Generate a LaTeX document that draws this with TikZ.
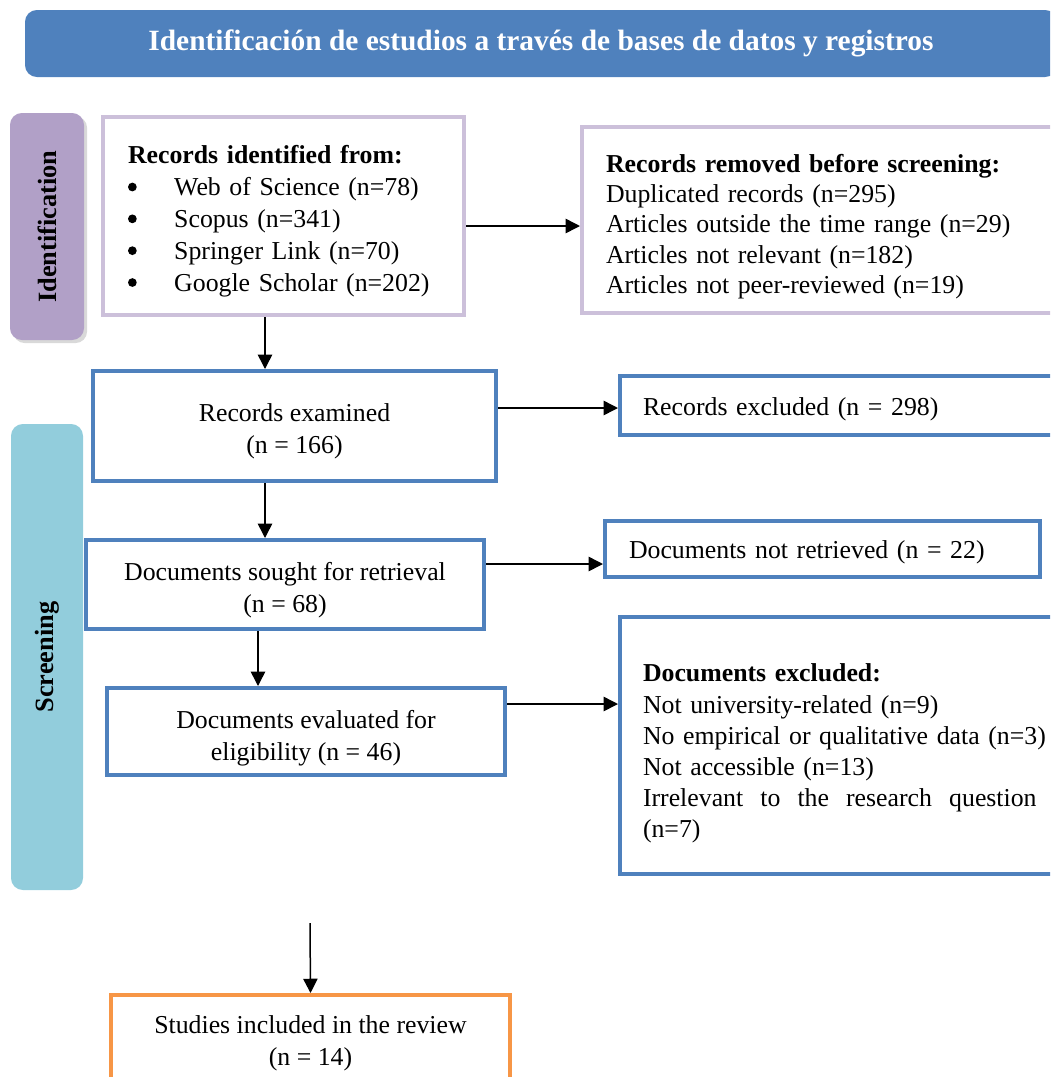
\documentclass[tikz,border=0pt]{standalone}
\usepackage{fontspec}
\setmainfont{Liberation Serif}
\usetikzlibrary{arrows.meta,shadows}

\definecolor{headblue}{HTML}{4F81BD}
\definecolor{idpurple}{HTML}{B1A0C7}
\definecolor{lilac}{HTML}{CCC0DA}
\definecolor{scrcyan}{HTML}{92CDDC}
\definecolor{inclorange}{HTML}{F79646}

%bullet for the list of sources
\newcommand{\srcitem}{\tikz[baseline=0pt]\fill (0,0.14cm) circle (0.07cm);\hspace*{0.6cm}}
%strut that lowers the text a little in its box
\newcommand{\lowstrut}[1][0.46cm]{\rule{0pt}{#1}}

\begin{document}
\begin{tikzpicture}
  [
    x=0.016cm, y=-0.016cm,
    >={Triangle[length=6.5pt,width=6.5pt]},
    font=\fontsize{11.75}{14.5}\selectfont,
    sidebar/.style  = {rounded corners=0.19cm, inner sep=0, rotate=90, font=\fontsize{12}{14}\selectfont\bfseries},
    lilacbox/.style = {draw=lilac, line width=0.064cm, align=left, anchor=west, inner ysep=0},
    bluebox/.style  = {draw=headblue, line width=0.064cm, align=center, inner sep=0},
    sidebox/.style  = {draw=headblue, line width=0.064cm, align=left, anchor=west, inner ysep=0},
    arr/.style      = {->, line width=0.024cm},
  ]

%one pixel of the reference
\def \px{0.016cm}

\useasboundingbox (0,0) rectangle (1050,1077);
\clip (0,0) rectangle (1050,1077);

%Header
\node[fill=headblue, rounded corners=0.19cm, minimum width=1032*\px, minimum height=67*\px, text=white, font=\fontsize{13.4}{15}\selectfont\bfseries] (head) at (541,43.5) {Identificación de estudios a través de bases de datos y registros};

%Side bars
\node[sidebar, fill=idpurple, minimum width=227*\px, minimum height=74*\px, drop shadow={shadow xshift=0.05cm, shadow yshift=-0.05cm, opacity=0.3}] (idbar) at (47,226.5) {Identification};
\node[sidebar, fill=scrcyan, minimum width=466*\px, minimum height=72*\px] (scrbar) at (47,657) {Screening};

%Identification boxes
\node[lilacbox, text width=311*\px, inner xsep=25*\px, minimum height=198*\px] (ident) at (101,216)
  {\lowstrut\textbf{Records identified from:}\\
   \srcitem Web of Science (n=78)\\
   \srcitem Scopus (n=341)\\
   \srcitem Springer Link (n=70)\\
   \srcitem Google Scholar (n=202)};
\node[lilacbox, text width=460*\px, inner xsep=24*\px, minimum height=186*\px, font=\fontsize{11.75}{13.8}\selectfont] (removed) at (580,220)
  {\lowstrut[0.5cm]\textbf{Records removed before screening:}\\
   Duplicated records (n=295)\\
   Articles outside the time range (n=29)\\
   Articles not relevant (n=182)\\
   Articles not peer-reviewed (n=19)};

%Screening boxes
\node[bluebox, minimum width=403*\px, minimum height=110*\px] (exam) at (294.5,426) {\lowstrut Records examined\\(n = 166)};
\node[sidebox, text width=420*\px, inner xsep=23*\px, minimum height=59*\px] (excl1) at (618,405.5) {\lowstrut[0.4cm]Records excluded (n = 298)};
\node[bluebox, minimum width=398*\px, minimum height=89*\px] (sought) at (285,584.5) {\lowstrut Documents sought for retrieval\\(n = 68)};
\node[sidebox, text width=387*\px, inner xsep=24*\px, minimum height=56*\px] (notret) at (603,549) {\lowstrut[0.38cm]Documents not retrieved (n = 22)};
\node[bluebox, minimum width=398*\px, minimum height=87*\px] (elig) at (306,731.5) {\lowstrut[0.5cm]Documents evaluated for\\eligibility (n = 46)};
\node[sidebox, text width=420*\px, inner xsep=23*\px, minimum height=257*\px, font=\fontsize{11.75}{14.2}\selectfont] (excl2) at (618,745.5)
  {\lowstrut[0.55cm]\textbf{Documents excluded:}\\
   Not university-related (n=9)\\
   No empirical or qualitative data (n=3)\\
   Not accessible (n=13)\\
   \makebox[6.3cm][s]{Irrelevant\hfill to\hfill the\hfill research\hfill question}\\
   (n=7)};

%Included
\node[draw=inclorange, line width=0.064cm, align=center, inner sep=0, minimum width=399*\px, minimum height=90*\px] (incl) at (310.5,1040) {\lowstrut[0.4cm]Studies included in the review\\(n = 14)};

%Arrows
\draw[arr] (ident.east |- 0,226) -- (removed.west |- 0,226);
\draw[arr] (ident.south -| 265,0) -- (exam.north -| 265,0);
\draw[arr] (exam.east |- 0,408) -- (excl1.west |- 0,408);
\draw[arr] (exam.south -| 265,0) -- (sought.north -| 265,0);
\draw[arr] (sought.east |- 0,564) -- (notret.west |- 0,564);
\draw[arr] (sought.south -| 258,0) -- (elig.north -| 258,0);
\draw[arr] (elig.east |- 0,704) -- (excl2.west |- 0,704);
\coordinate (gap) at (310,923);
\draw[arr] (gap) -- (incl.north);

\end{tikzpicture}
\end{document}
